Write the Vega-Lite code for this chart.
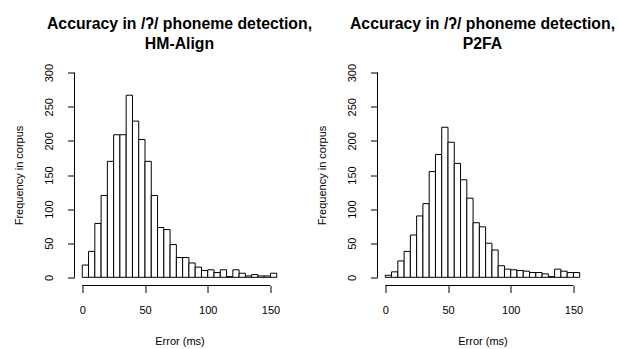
{
  "$schema": "https://vega.github.io/schema/vega-lite/v6.json",
  "bounds": "flush",
  "spacing": 93,
  "padding": {"left": 13.5, "top": 15.5, "right": 0, "bottom": 0},
  "background": "white",
  "config": {
    "font": "Liberation Sans",
    "view": {"stroke": null},
    "title": {"fontSize": 15.8, "fontWeight": "bold", "color": "black", "lineHeight": 20.5, "offset": 10.5, "anchor": "middle"},
    "axis": {"domain": false, "grid": false, "tickColor": "black", "tickSize": 7, "tickWidth": 1, "labelColor": "black", "titleColor": "black", "labelFontSize": 11, "titleFontSize": 11, "titleFontWeight": "normal", "labelFlush": false, "labelOverlap": false},
    "axisX": {"labelPadding": 12, "titlePadding": 20},
    "axisY": {"titlePadding": 19}
  },
  "datasets": {
    "hm": [
      {"error_start": 0, "error_end": 5, "frequency": 18},
      {"error_start": 5, "error_end": 10, "frequency": 38},
      {"error_start": 10, "error_end": 15, "frequency": 79},
      {"error_start": 15, "error_end": 20, "frequency": 120},
      {"error_start": 20, "error_end": 25, "frequency": 170},
      {"error_start": 25, "error_end": 30, "frequency": 209},
      {"error_start": 30, "error_end": 35, "frequency": 209},
      {"error_start": 35, "error_end": 40, "frequency": 267},
      {"error_start": 40, "error_end": 45, "frequency": 229},
      {"error_start": 45, "error_end": 50, "frequency": 202},
      {"error_start": 50, "error_end": 55, "frequency": 170},
      {"error_start": 55, "error_end": 60, "frequency": 120},
      {"error_start": 60, "error_end": 65, "frequency": 73},
      {"error_start": 65, "error_end": 70, "frequency": 70},
      {"error_start": 70, "error_end": 75, "frequency": 48},
      {"error_start": 75, "error_end": 80, "frequency": 29},
      {"error_start": 80, "error_end": 85, "frequency": 29},
      {"error_start": 85, "error_end": 90, "frequency": 21},
      {"error_start": 90, "error_end": 95, "frequency": 15},
      {"error_start": 95, "error_end": 100, "frequency": 10},
      {"error_start": 100, "error_end": 105, "frequency": 11},
      {"error_start": 105, "error_end": 110, "frequency": 7},
      {"error_start": 110, "error_end": 115, "frequency": 11},
      {"error_start": 115, "error_end": 120, "frequency": 1},
      {"error_start": 120, "error_end": 125, "frequency": 11},
      {"error_start": 125, "error_end": 130, "frequency": 6},
      {"error_start": 130, "error_end": 135, "frequency": 2},
      {"error_start": 135, "error_end": 140, "frequency": 4},
      {"error_start": 140, "error_end": 145, "frequency": 2},
      {"error_start": 145, "error_end": 150, "frequency": 2},
      {"error_start": 150, "error_end": 155, "frequency": 6}
    ],
    "p2": [
      {"error_start": 0, "error_end": 5, "frequency": 3},
      {"error_start": 5, "error_end": 10, "frequency": 8},
      {"error_start": 10, "error_end": 15, "frequency": 24},
      {"error_start": 15, "error_end": 20, "frequency": 38},
      {"error_start": 20, "error_end": 25, "frequency": 62},
      {"error_start": 25, "error_end": 30, "frequency": 90},
      {"error_start": 30, "error_end": 35, "frequency": 108},
      {"error_start": 35, "error_end": 40, "frequency": 155},
      {"error_start": 40, "error_end": 45, "frequency": 180},
      {"error_start": 45, "error_end": 50, "frequency": 220},
      {"error_start": 50, "error_end": 55, "frequency": 198},
      {"error_start": 55, "error_end": 60, "frequency": 167},
      {"error_start": 60, "error_end": 65, "frequency": 143},
      {"error_start": 65, "error_end": 70, "frequency": 116},
      {"error_start": 70, "error_end": 75, "frequency": 80},
      {"error_start": 75, "error_end": 80, "frequency": 74},
      {"error_start": 80, "error_end": 85, "frequency": 50},
      {"error_start": 85, "error_end": 90, "frequency": 40},
      {"error_start": 90, "error_end": 95, "frequency": 17},
      {"error_start": 95, "error_end": 100, "frequency": 12},
      {"error_start": 100, "error_end": 105, "frequency": 11},
      {"error_start": 105, "error_end": 110, "frequency": 10},
      {"error_start": 110, "error_end": 115, "frequency": 9},
      {"error_start": 115, "error_end": 120, "frequency": 7},
      {"error_start": 120, "error_end": 125, "frequency": 7},
      {"error_start": 125, "error_end": 130, "frequency": 5},
      {"error_start": 130, "error_end": 135, "frequency": 1},
      {"error_start": 135, "error_end": 140, "frequency": 12},
      {"error_start": 140, "error_end": 145, "frequency": 9},
      {"error_start": 145, "error_end": 150, "frequency": 7},
      {"error_start": 150, "error_end": 155, "frequency": 7}
    ]
  },
  "hconcat": [
    {
      "width": 210,
      "height": 221,
      "title": {"text": ["Accuracy in /ʔ/ phoneme detection,", "HM-Align"]},
      "layer": [
        {
          "data": {"name": "hm"},
          "mark": {"type": "bar", "fill": "white", "stroke": "black", "strokeWidth": 1},
          "encoding": {
            "x": {"field": "error_start", "type": "quantitative", "scale": {"domain": [-6.2, 161.2], "nice": false, "zero": false}, "axis": {"values": [0, 50, 100, 150], "title": "Error (ms)"}},
            "x2": {"field": "error_end"},
            "y": {"field": "frequency", "type": "quantitative", "scale": {"domain": [-12, 312], "nice": false, "zero": false}, "axis": {"values": [0, 50, 100, 150, 200, 250, 300], "title": "Frequency in corpus", "labelAngle": 270, "labelAlign": "center", "labelBaseline": "middle", "labelPadding": 18}},
            "y2": {"datum": 0}
          }
        },
        {
          "data": {"values": [{}]},
          "mark": {"type": "rule", "color": "black", "strokeWidth": 1},
          "encoding": {
            "x": {"datum": 0, "type": "quantitative", "axis": {"values": [0, 50, 100, 150], "title": "Error (ms)"}},
            "x2": {"datum": 150},
            "y": {"datum": -12, "type": "quantitative", "axis": {"values": [0, 50, 100, 150, 200, 250, 300], "title": "Frequency in corpus", "labelAngle": 270, "labelAlign": "center", "labelBaseline": "middle", "labelPadding": 18}}
          }
        },
        {
          "data": {"values": [{}]},
          "mark": {"type": "rule", "color": "black", "strokeWidth": 1},
          "encoding": {
            "y": {"datum": 0, "type": "quantitative", "axis": {"values": [0, 50, 100, 150, 200, 250, 300], "title": "Frequency in corpus", "labelAngle": 270, "labelAlign": "center", "labelBaseline": "middle", "labelPadding": 18}},
            "y2": {"datum": 300},
            "x": {"datum": -6.2, "type": "quantitative", "axis": {"values": [0, 50, 100, 150], "title": "Error (ms)"}}
          }
        }
      ]
    },
    {
      "width": 210,
      "height": 221,
      "title": {"text": ["Accuracy in /ʔ/ phoneme detection,", "P2FA"]},
      "layer": [
        {
          "data": {"name": "p2"},
          "mark": {"type": "bar", "fill": "white", "stroke": "black", "strokeWidth": 1},
          "encoding": {
            "x": {"field": "error_start", "type": "quantitative", "scale": {"domain": [-6.2, 161.2], "nice": false, "zero": false}, "axis": {"values": [0, 50, 100, 150], "title": "Error (ms)"}},
            "x2": {"field": "error_end"},
            "y": {"field": "frequency", "type": "quantitative", "scale": {"domain": [-12, 312], "nice": false, "zero": false}, "axis": {"values": [0, 50, 100, 150, 200, 250, 300], "title": "Frequency in corpus", "labelAngle": 270, "labelAlign": "center", "labelBaseline": "middle", "labelPadding": 18}},
            "y2": {"datum": 0}
          }
        },
        {
          "data": {"values": [{}]},
          "mark": {"type": "rule", "color": "black", "strokeWidth": 1},
          "encoding": {
            "x": {"datum": 0, "type": "quantitative", "axis": {"values": [0, 50, 100, 150], "title": "Error (ms)"}},
            "x2": {"datum": 150},
            "y": {"datum": -12, "type": "quantitative", "axis": {"values": [0, 50, 100, 150, 200, 250, 300], "title": "Frequency in corpus", "labelAngle": 270, "labelAlign": "center", "labelBaseline": "middle", "labelPadding": 18}}
          }
        },
        {
          "data": {"values": [{}]},
          "mark": {"type": "rule", "color": "black", "strokeWidth": 1},
          "encoding": {
            "y": {"datum": 0, "type": "quantitative", "axis": {"values": [0, 50, 100, 150, 200, 250, 300], "title": "Frequency in corpus", "labelAngle": 270, "labelAlign": "center", "labelBaseline": "middle", "labelPadding": 18}},
            "y2": {"datum": 300},
            "x": {"datum": -6.2, "type": "quantitative", "axis": {"values": [0, 50, 100, 150], "title": "Error (ms)"}}
          }
        }
      ]
    }
  ]
}
